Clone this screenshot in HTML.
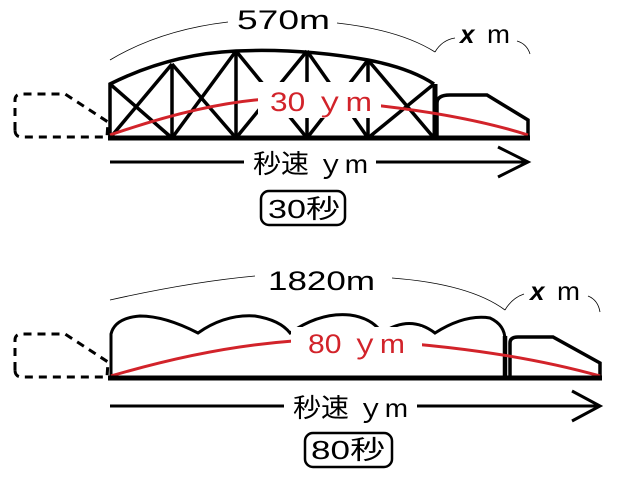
<!DOCTYPE html>
<html><head><meta charset="utf-8"><style>
html,body{margin:0;padding:0;background:#fff}
svg{display:block}
text{font-family:"Liberation Sans","Noto Sans CJK JP",sans-serif}
</style></head><body>
<svg width="623" height="480" viewBox="0 0 623 480" xmlns="http://www.w3.org/2000/svg">
<!-- ===== TOP ===== -->
<path d="M110 60 Q160 30 228 22" fill="none" stroke="#000" stroke-width="0.8"/>
<path d="M337 23 Q400 30 435 52" fill="none" stroke="#000" stroke-width="0.8"/>
<path d="M435 52 Q442 40 455 38" fill="none" stroke="#000" stroke-width="0.8"/>
<path d="M517 41 Q527 44 530 54" fill="none" stroke="#000" stroke-width="0.8"/>
<text x="237" y="29" font-size="27" textLength="93" lengthAdjust="spacingAndGlyphs">570m</text>
<text x="460" y="43" font-size="26" font-style="italic" font-weight="bold" font-family="Liberation Serif,serif">x</text>
<text x="487" y="43" font-size="26" textLength="23" lengthAdjust="spacingAndGlyphs">m</text>
<path d="M15 130 L15 100 Q15 94 22 94 L65 94 L108 122 L107 137 L22 137 Q15 137 15 130" fill="none" stroke="#000" stroke-width="3" stroke-dasharray="8,6"/>
<g stroke="#000" stroke-width="3.5" fill="none">
<path d="M110 138 L110 84 Q170 54 236 51 Q300 48 368 60 Q410 68 434 84"/>
<line x1="172" y1="64" x2="172" y2="138"/><line x1="236" y1="51" x2="236" y2="138"/>
<line x1="307" y1="51" x2="307" y2="138"/><line x1="368" y1="60" x2="368" y2="138"/>
<line x1="110" y1="84" x2="172" y2="138"/><line x1="172" y1="64" x2="110" y2="138"/>
<line x1="172" y1="64" x2="236" y2="138"/><line x1="236" y1="51" x2="172" y2="138"/>
<line x1="236" y1="51" x2="307" y2="138"/><line x1="307" y1="51" x2="236" y2="138"/>
<line x1="307" y1="51" x2="368" y2="138"/><line x1="368" y1="60" x2="307" y2="138"/>
<line x1="368" y1="60" x2="434" y2="138"/><line x1="434" y1="84" x2="368" y2="138"/>
</g>
<line x1="435" y1="84" x2="435" y2="138" stroke="#000" stroke-width="5"/>
<path d="M437 136 L437 103 Q437 95 450 95 L487 95 L528 120 L528 138" fill="none" stroke="#000" stroke-width="3.5"/>
<path d="M110 135 Q240 90 320 100 Q450 110 528 135" fill="none" stroke="#d2232a" stroke-width="3"/>
<rect x="258" y="82" width="123" height="36" fill="#fff"/>
<text x="270" y="111" font-size="27" fill="#d2232a" textLength="102" lengthAdjust="spacingAndGlyphs">30 ｙm</text>
<line x1="108" y1="138" x2="530" y2="138" stroke="#000" stroke-width="5"/>
<line x1="110" y1="162" x2="528" y2="162" stroke="#000" stroke-width="3"/>
<path d="M498 147 L528 162 L498 177" fill="none" stroke="#000" stroke-width="3"/>
<rect x="244" y="146" width="132" height="32" fill="#fff"/>
<text x="253" y="173" font-size="26" textLength="115" lengthAdjust="spacingAndGlyphs">秒速 ｙm</text>
<rect x="261" y="191" width="84" height="34" rx="8" fill="#fff" stroke="#000" stroke-width="2.5"/>
<text x="268" y="218" font-size="26" textLength="72" lengthAdjust="spacingAndGlyphs">30秒</text>

<!-- ===== BOTTOM ===== -->
<path d="M110 300 Q190 282 255 276" fill="none" stroke="#000" stroke-width="0.8"/>
<path d="M392 278 Q470 284 505 310" fill="none" stroke="#000" stroke-width="0.8"/>
<path d="M505 310 Q512 298 524 294" fill="none" stroke="#000" stroke-width="0.8"/>
<path d="M588 296 Q598 300 600 312" fill="none" stroke="#000" stroke-width="0.8"/>
<text x="268" y="290" font-size="27" textLength="107" lengthAdjust="spacingAndGlyphs">1820m</text>
<text x="530" y="300" font-size="26" font-style="italic" font-weight="bold" font-family="Liberation Serif,serif">x</text>
<text x="557" y="300" font-size="26" textLength="23" lengthAdjust="spacingAndGlyphs">m</text>
<path d="M15 370 L15 340 Q15 334 22 334 L65 334 L108 362 L107 377 L22 377 Q15 377 15 370" fill="none" stroke="#000" stroke-width="3" stroke-dasharray="8,6"/>
<path d="M111 378 L111 334 Q115 318 140 316 Q165 316 198 333 Q225 314 255 316 Q280 320 290 333 Q320 312 350 315 Q372 318 382 333 Q410 314 435 333 Q465 314 490 318 Q505 325 505 340" fill="none" stroke="#000" stroke-width="3"/>
<line x1="505" y1="336" x2="505" y2="378" stroke="#000" stroke-width="4.5"/>
<path d="M510 376 L510 343 Q510 337 518 337 L553 337 L600 363 L600 378" fill="none" stroke="#000" stroke-width="3.5"/>
<path d="M111 376 Q250 335 360 340 Q500 348 600 376" fill="none" stroke="#d2232a" stroke-width="3"/>
<rect x="291" y="327" width="131" height="31" fill="#fff"/>
<text x="308" y="353" font-size="27" fill="#d2232a" textLength="97" lengthAdjust="spacingAndGlyphs">80 ｙm</text>
<line x1="108" y1="378" x2="602" y2="378" stroke="#000" stroke-width="5"/>
<line x1="110" y1="406" x2="600" y2="406" stroke="#000" stroke-width="3"/>
<path d="M572 391 L600 406 L572 421" fill="none" stroke="#000" stroke-width="3"/>
<rect x="284" y="390" width="133" height="32" fill="#fff"/>
<text x="293" y="417" font-size="26" textLength="115" lengthAdjust="spacingAndGlyphs">秒速 ｙm</text>
<rect x="305" y="433" width="87" height="34" rx="8" fill="#fff" stroke="#000" stroke-width="2.5"/>
<text x="311" y="459" font-size="26" textLength="74" lengthAdjust="spacingAndGlyphs">80秒</text>
</svg>
</body></html>
